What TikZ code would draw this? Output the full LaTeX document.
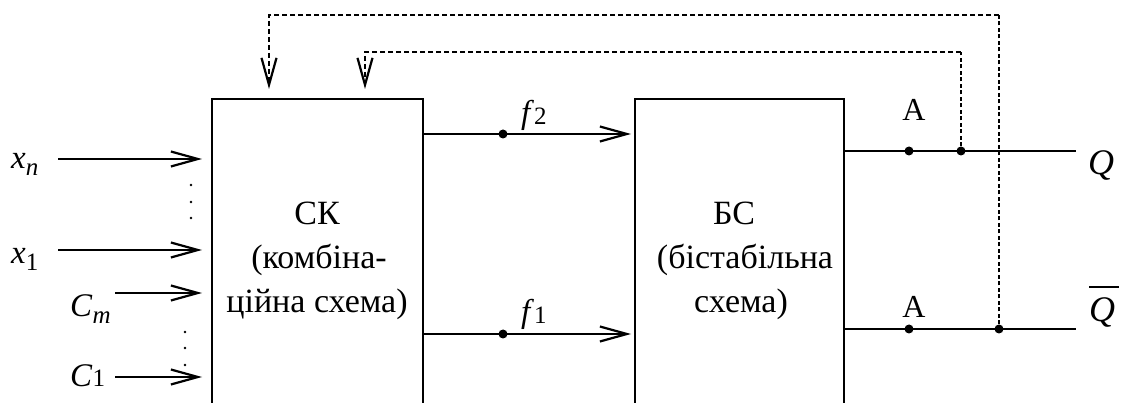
\documentclass[tikz,border=0pt]{standalone}
\usepackage{fontspec}
\setmainfont{Liberation Serif}
\usetikzlibrary{arrows.meta}
\newcommand{\sbi}[3][0.2em]{\textit{#2}\raisebox{-#1}{\fontsize{25}{25}\selectfont #3}}
\begin{document}
\begin{tikzpicture}[x=1pt,y=-1pt,
  blk/.style={draw, line width=2.2pt, minimum height=330pt, anchor=north west, inner sep=0pt},
  sig/.style={line width=2.2pt, -{Straight Barb[length=27pt,width=15pt,line width=2.2pt]}},
  fb/.style={line width=1.9pt, dash pattern=on 5pt off 3pt, -{Straight Barb[length=27pt,width=15pt,line width=2.2pt]}},
  fbl/.style={line width=1.9pt, dash pattern=on 4pt off 2.5pt},
  wire/.style={line width=2.2pt},
  jd/.style={circle, fill, inner sep=0pt, minimum size=9pt},
  vd/.style={circle, fill, inner sep=0pt, minimum size=2.8pt},
  txt/.style={anchor=base, inner sep=0pt, font=\fontsize{34}{40}\selectfont},
  lbl/.style={anchor=base west, inner sep=0pt, font=\fontsize{33}{40}\selectfont}
]
\useasboundingbox (0,0) rectangle (1122,403);
\clip (0,0) rectangle (1122,403);

% blocks
\node[blk, minimum width=211pt] (sk) at (211,98) {};
\node[blk, minimum width=209pt] (bs) at (634,98) {};

\node[txt] (sk1) at (317,225) {СК};
\node[txt] (sk2) at (319,269) {(комбіна-};
\node[txt] (sk3) at (317,313) {ційна схема)};
\node[txt] (bs1) at (734,225) {БС};
\node[txt] (bs2) at (745,269) {(бістабільна};
\node[txt] (bs3) at (741,313) {схема)};

% inputs
\coordinate (ixn) at (58,159);
\coordinate (ix1) at (58,250);
\coordinate (icm) at (115,293);
\coordinate (ic1) at (115,377);
\draw[sig, shorten >=9pt] (ixn) -- (ixn -| sk.west);
\draw[sig, shorten >=9pt] (ix1) -- (ix1 -| sk.west);
\draw[sig, shorten >=9pt] (icm) -- (icm -| sk.west);
\draw[sig, shorten >=9pt] (ic1) -- (ic1 -| sk.west);
\node[lbl] (lxn) at (11,169) {\sbi{x}{\itshape n}};
\node[lbl] (lx1) at (11,264) {\sbi{x}{1}};
\node[lbl] (lcm) at (70,317) {\sbi{C}{\itshape m}};
\node[lbl] (lc1) at (70,386) {\sbi[0.02em]{C}{1}};
\node[vd] (d1) at (191,185) {};
\node[vd] (d2) at (191,202) {};
\node[vd] (d3) at (191,218) {};
\node[vd] (d4) at (185,332) {};
\node[vd] (d5) at (185,348) {};
\node[vd] (d6) at (185,365) {};

% f signals
\node[jd] (f2d) at (503,134) {};
\node[jd] (f1d) at (503,334) {};
\draw[sig, shorten >=3pt] (f2d -| sk.east) -- (f2d -| bs.west);
\draw[sig, shorten >=3pt] (f1d -| sk.east) -- (f1d -| bs.west);
\node[lbl] (lf2) at (521,124) {\sbi[0.03em]{f}{2}};
\node[lbl] (lf1) at (521,323) {\sbi[0.03em]{f}{1}};

% outputs
\coordinate (qe) at (1076,151);
\coordinate (nqe) at (1076,329);
\draw[wire] (qe -| bs.east) -- (qe);
\draw[wire] (nqe -| bs.east) -- (nqe);
\node[jd] (a1) at (909,151) {};
\node[jd] (a2) at (909,329) {};
\node[jd] (p1) at (961,151) {};
\node[jd] (p2) at (999,329) {};
\node[txt, font=\fontsize{32}{40}\selectfont] (la1) at (914,121) {А};
\node[txt, font=\fontsize{32}{40}\selectfont] (la2) at (914,318) {А};
\node[lbl, font=\fontsize{36}{40}\selectfont] (lq) at (1088,175) {\textit{Q}};
\node[lbl, font=\fontsize{36}{40}\selectfont] (lnq) at (1089,322) {\vbox{\hrule width 30pt height 1.8pt \vskip 10pt \hbox{\itshape Q}}};

% feedback
\coordinate (t1) at (269,15);
\coordinate (t2) at (365,52);
\draw[fbl] (p2) -- (p2 |- t1);
\draw[fb, shorten >=9pt] (p2 |- t1) -- (t1) -- (t1 |- sk.north);
\draw[fbl] (p1) -- (p1 |- t2);
\draw[fb, shorten >=9pt] (p1 |- t2) -- (t2) -- (t2 |- sk.north);
\end{tikzpicture}
\end{document}
